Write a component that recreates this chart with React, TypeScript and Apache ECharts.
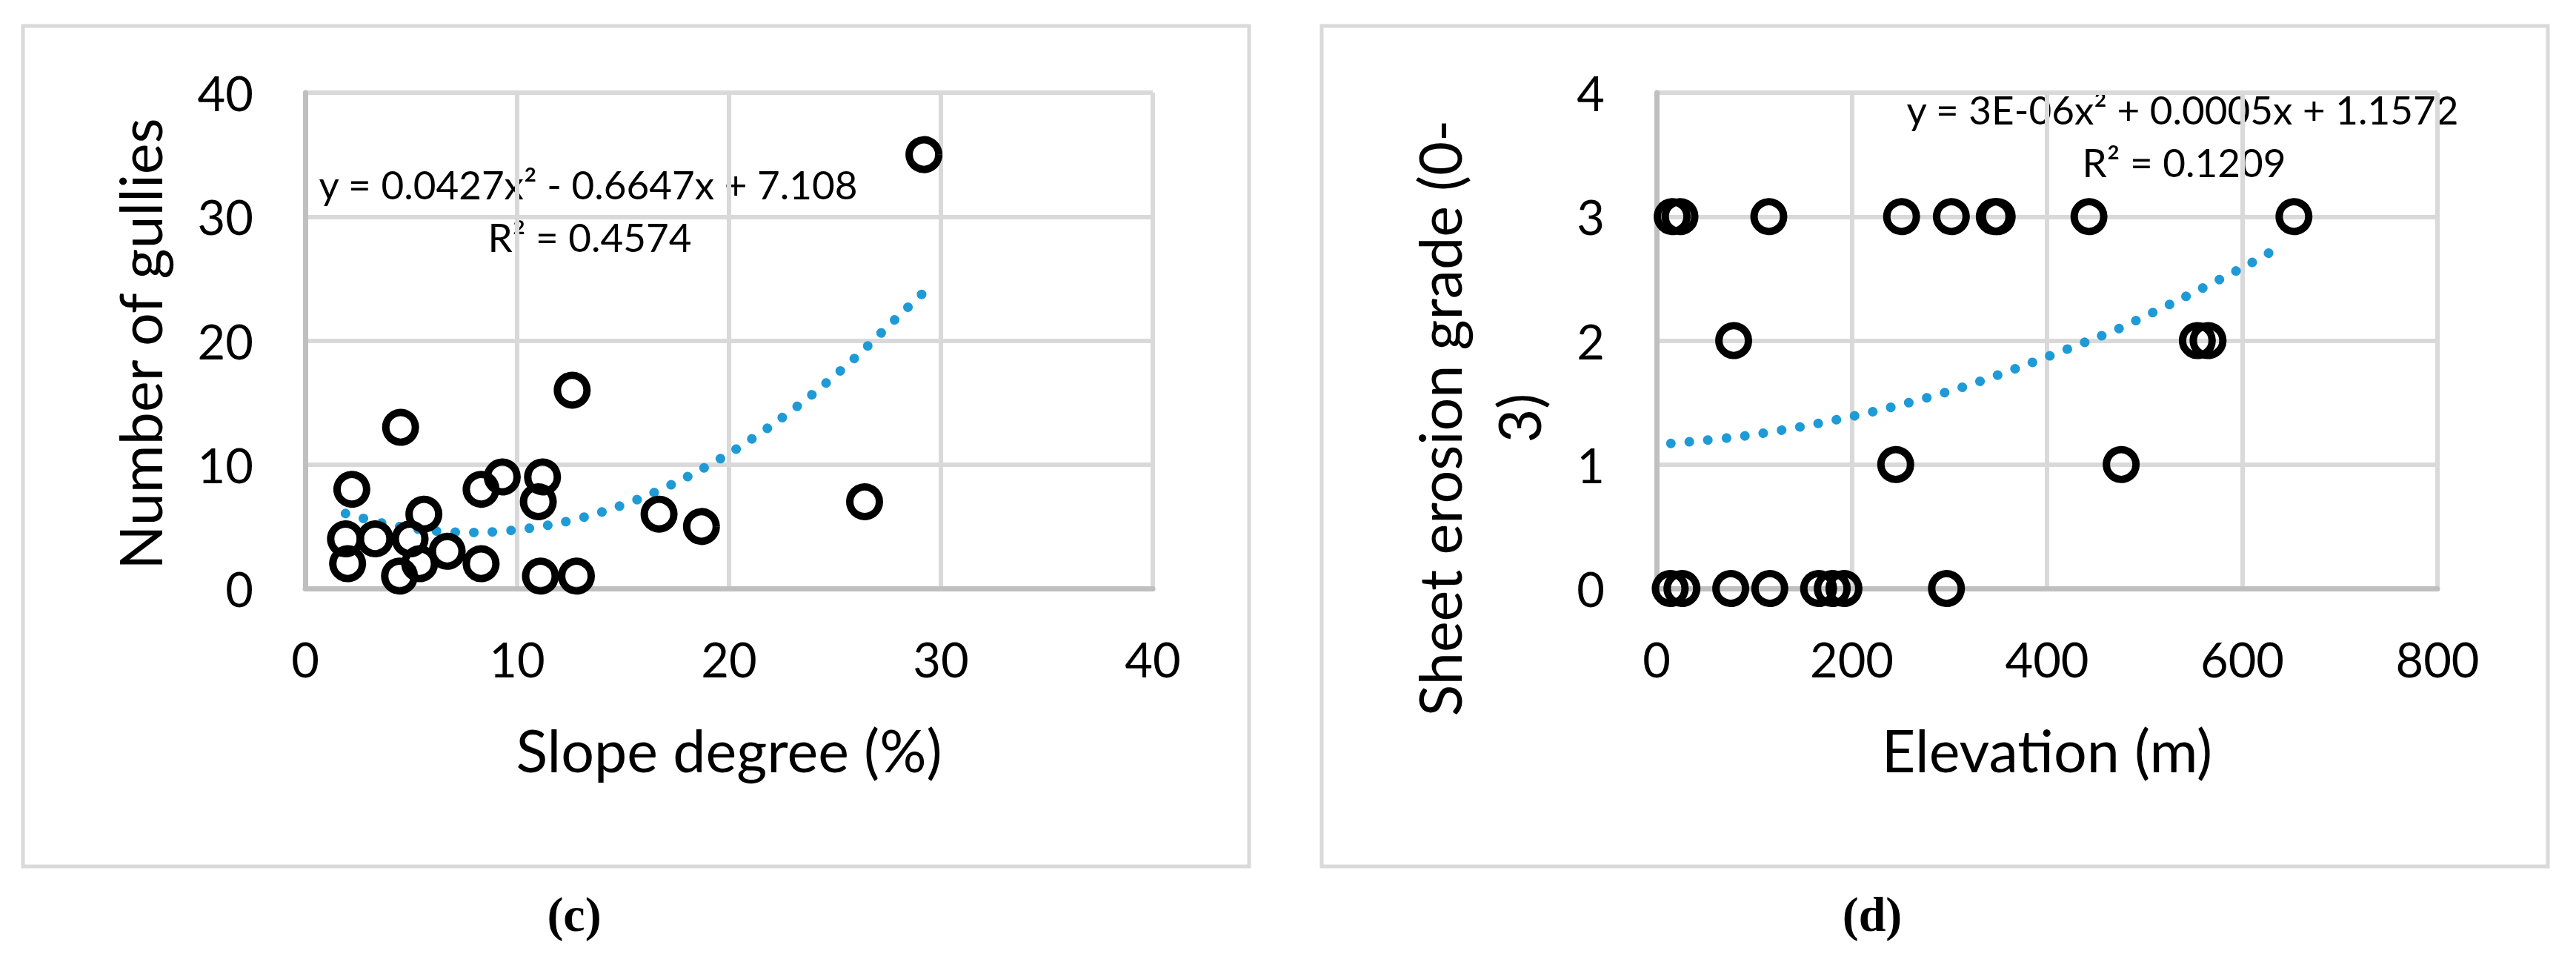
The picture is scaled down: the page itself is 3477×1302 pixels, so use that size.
import React, { useEffect, useRef } from "react";
import * as echarts from "echarts";

// Panel (c): slope degree vs number of gullies
const slopeX = [1.9, 2.0, 2.2, 3.3, 4.45, 4.5, 4.95, 5.4, 5.6, 6.7, 8.3, 8.3, 9.3, 11.0, 11.1, 11.2, 12.6, 12.8, 16.7, 18.7, 26.4, 29.2];
const gulliesY = [4, 2, 8, 4, 1, 13, 4, 2, 6, 3, 8, 2, 9, 7, 1, 9, 16, 1, 6, 5, 7, 35];
const slopeTrendX = [1.9, 4, 6, 8, 10, 12, 14, 16, 18, 20, 22, 24, 26, 28, 29.2];
const slopeTrendY = [6.05, 5.13, 4.66, 4.52, 4.73, 5.28, 6.17, 7.4, 8.98, 10.89, 13.15, 15.75, 18.69, 21.97, 23.9];
const slopeTicks = { min: 0, max: 40, interval: 10 };
const gulliesTicks = { min: 0, max: 40, interval: 10 };

// Panel (d): elevation vs sheet erosion grade
const elevX = [16, 24, 115, 251, 302, 346, 349, 443, 653, 79, 554, 565, 245, 476, 14, 26, 76, 116, 166, 180, 192, 297];
const gradeY = [3, 3, 3, 3, 3, 3, 3, 3, 3, 2, 2, 2, 1, 1, 0, 0, 0, 0, 0, 0, 0, 0];
const elevTrendX = [14.6, 89.6, 164.7, 239.3, 311.8, 383.7, 453, 471.8, 540.7, 607.8, 641];
const elevTrendY = [1.17, 1.23, 1.33, 1.46, 1.62, 1.82, 2.03, 2.09, 2.35, 2.62, 2.77];
const elevTicks = { min: 0, max: 800, interval: 200 };
const gradeTicks = { min: 0, max: 4, interval: 1 };

const eqC = "y = 0.0427x² - 0.6647x + 7.108";
const r2C = "R² = 0.4574";
const eqD = "y = 3E-06x² + 0.0005x + 1.1572";
const r2D = "R² = 0.1209";

const FONT = "Lato";
const TREND = "#1E9BD7";

function axisBase(gridIndex: number, t: { min: number; max: number; interval: number }, margin: number) {
  return {
    gridIndex,
    type: "value" as const,
    min: t.min,
    max: t.max,
    interval: t.interval,
    axisLine: { show: true, onZero: false, lineStyle: { color: "#bfbfbf", width: 7 } },
    axisTick: { show: false },
    splitLine: { show: true, lineStyle: { color: "#d9d9d9", width: 6 } },
    axisLabel: { fontSize: 65, fontFamily: FONT, color: "#000", margin },
  };
}

function zip(a: number[], b: number[]) {
  return a.map((v, i) => [v, b[i]]);
}

function txt(text: string, x: number, y: number, font: string, rotation = 0) {
  return {
    type: "text",
    x,
    y,
    rotation,
    silent: true,
    style: { text, font, fill: "#000", align: "center", verticalAlign: "middle" },
  };
}

export default function App() {
  const ref = useRef<HTMLDivElement>(null);
  useEffect(() => {
    document.body.style.margin = "0";
    const chart = echarts.init(ref.current!, null, { renderer: "svg" });
    const scatterStyle = {
      symbol: "circle",
      symbolSize: 40,
      itemStyle: { color: "rgba(0,0,0,0)", borderColor: "#000", borderWidth: 10, opacity: 1 },
    };
    const trendStyle = {
      type: "line" as const,
      smooth: 0.3,
      showSymbol: false,
      symbol: "none",
      lineStyle: { color: TREND, width: 13, type: [0.1, 25], cap: "round", opacity: 1 },
      z: 1,
    };
    chart.setOption({
      animation: false,
      backgroundColor: "#fff",
      grid: [
        { left: 412, top: 125, width: 1144, height: 669 },
        { left: 2236, top: 125, width: 1054, height: 669 },
      ],
      xAxis: [axisBase(0, slopeTicks, 62), axisBase(1, elevTicks, 62)],
      yAxis: [axisBase(0, gulliesTicks, 70), axisBase(1, gradeTicks, 70)],
      series: [
        { ...trendStyle, name: "trend c", xAxisIndex: 0, yAxisIndex: 0, data: zip(slopeTrendX, slopeTrendY) },
        { type: "scatter", name: "gullies", xAxisIndex: 0, yAxisIndex: 0, data: zip(slopeX, gulliesY), ...scatterStyle, z: 2 },
        { ...trendStyle, name: "trend d", xAxisIndex: 1, yAxisIndex: 1, data: zip(elevTrendX, elevTrendY) },
        { type: "scatter", name: "grade", xAxisIndex: 1, yAxisIndex: 1, data: zip(elevX, gradeY), ...scatterStyle, z: 2 },
      ],
      graphic: [
        { type: "rect", silent: true, shape: { x: 31, y: 35, width: 1655, height: 1134 }, style: { fill: "none", stroke: "#d9d9d9", lineWidth: 5 } },
        { type: "rect", silent: true, shape: { x: 1784, y: 35, width: 1655, height: 1134 }, style: { fill: "none", stroke: "#d9d9d9", lineWidth: 5 } },
        txt(eqC, 794, 248, `53px ${FONT}`),
        txt(r2C, 796, 319, `53px ${FONT}`),
        txt(eqD, 2946, 147, `53px ${FONT}`),
        txt(r2D, 2948, 218, `53px ${FONT}`),
        txt("Slope degree (%)", 984, 1011, `79px ${FONT}`),
        txt("Elevation (m)", 2763, 1011, `79px ${FONT}`),
        txt("Number of gullies", 188, 464, `79px ${FONT}`, Math.PI / 2),
        txt("Sheet erosion grade (0-", 1942, 564, `79px ${FONT}`, Math.PI / 2),
        txt("3)", 2049, 564, `79px ${FONT}`, Math.PI / 2),
        txt("(c)", 775, 1233, `bold 66px "Liberation Serif"`),
        txt("(d)", 2527, 1233, `bold 66px "Liberation Serif"`),
      ],
    });
    return () => chart.dispose();
  }, []);
  return (
    <div
      ref={ref}
      style={{ position: "absolute", left: 0, top: 0, width: 3477, height: 1302, background: "#fff" }}
    />
  );
}
